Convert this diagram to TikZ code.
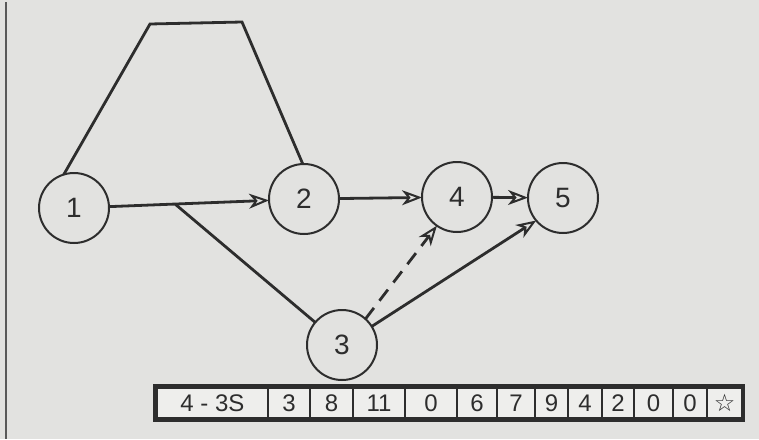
\documentclass[tikz,border=0pt]{standalone}
\usepackage{fontspec}
\setmainfont{Liberation Sans}
\newfontfamily\symfont{DejaVu Sans}
\usetikzlibrary{arrows.meta}
\definecolor{paper}{RGB}{226,226,224}
\definecolor{cellfill}{RGB}{238,238,236}
\definecolor{ink}{RGB}{45,45,45}
\begin{document}
\begin{tikzpicture}[x=1pt,y=-1pt,
  ev/.style={circle, draw=ink, line width=2pt, minimum size=70pt, inner sep=0pt, outer sep=0pt, font=\fontsize{28}{32}\selectfont, text=ink},
  act/.style={draw=ink, line width=2.8pt},
  arr/.style={act, -{Stealth[open, length=20pt, width=15pt, inset=6pt, line width=2pt]}},
  cellbox/.style={draw=ink, line width=1.8pt, minimum height=30pt, inner sep=0pt, outer sep=0pt, font=\fontsize{24}{28}\selectfont, text=ink, fill=cellfill}
]
\useasboundingbox (0,0) rectangle (759,439);
\fill[paper] (0,0) rectangle (759,439);
\draw[gray!70!black, line width=1.5pt] (6,2) -- (6,439);

% events
\node[ev] (n1) at (74,208) {1};
\node[ev] (n2) at (304,199) {2};
\node[ev] (n4) at (457,197) {4};
\node[ev] (n5) at (563,198) {5};
\node[ev] (n3) at (342,345) {3};

% activities
\coordinate (t1) at (150,24);
\coordinate (t2) at (242,22);
\draw[act] (n1.107) -- (t1) -- (t2) -- (n2.92);
\draw[arr] (n1) -- (n2);
\coordinate (b) at (175,204);
\draw[act] (b) -- (n3);
\draw[arr] (n2) -- (n4);
\draw[arr] (n4) -- (n5);
\draw[arr, dashed, dash pattern=on 14pt off 9pt] (n3.48) -- (n4.235);
\draw[arr] (n3.32) -- (n5.220);

% table
\draw[ink, line width=4pt] (155,386) rectangle (743,420);
\node[cellbox, minimum width=111pt] (c1) at (212.5,403) {4 - 3S};
\node[cellbox, minimum width=42pt] (c2) at (289,403) {3};
\node[cellbox, minimum width=43pt] (c3) at (331.5,403) {8};
\node[cellbox, minimum width=52pt] (c4) at (379,403) {11};
\node[cellbox, minimum width=52pt] (c5) at (431,403) {0};
\node[cellbox, minimum width=40pt] (c6) at (477,403) {6};
\node[cellbox, minimum width=38pt] (c7) at (516,403) {7};
\node[cellbox, minimum width=33pt] (c8) at (551.5,403) {9};
\node[cellbox, minimum width=34pt] (c9) at (585,403) {4};
\node[cellbox, minimum width=32pt] (c10) at (618,403) {2};
\node[cellbox, minimum width=39pt] (c11) at (653.5,403) {0};
\node[cellbox, minimum width=34pt] (c12) at (690,403) {0};
\node[cellbox, minimum width=35pt] (c13) at (724.5,403) {\symfont ☆};
\end{tikzpicture}
\end{document}
